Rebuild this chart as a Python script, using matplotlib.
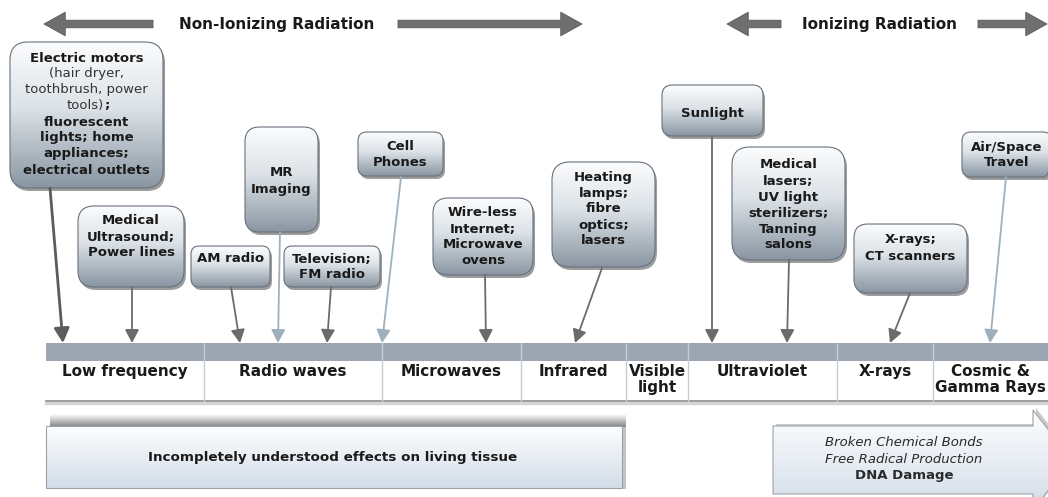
import numpy as np
import matplotlib.pyplot as plt
from matplotlib.patches import FancyBboxPatch, Rectangle, Polygon
from matplotlib.colors import LinearSegmentedColormap

plt.rcParams['font.family'] = ['DejaVu Sans']

# spectrum bands (left to right) and their pixel edges
band_names = ['Low frequency', 'Radio waves', 'Microwaves', 'Infrared',
              'Visible\nlight', 'Ultraviolet', 'X-rays', 'Cosmic &\nGamma Rays']
band_edges = [46, 204, 382, 521, 626, 688, 837, 933, 1048]

# sources of exposure
source_labels = [
    None,  # electric motors, drawn separately (mixed weights)
    'Medical\nUltrasound;\nPower lines',
    'AM radio',
    'MR\nImaging',
    'Television;\nFM radio',
    'Cell\nPhones',
    'Wire-less\nInternet;\nMicrowave\novens',
    'Heating\nlamps;\nfibre\noptics;\nlasers',
    'Sunlight',
    'Medical\nlasers;\nUV light\nsterilizers;\nTanning\nsalons',
    'X-rays;\nCT scanners',
    'Air/Space\nTravel',
]
# box extents x0, y0, x1, y1 (pixels)
source_boxes = [
    (10, 42, 163, 188), (78, 206, 184, 287), (191, 246, 270, 287),
    (245, 127, 318, 232), (284, 246, 380, 287), (358, 132, 443, 176),
    (433, 198, 533, 275), (552, 162, 655, 267), (662, 85, 763, 136),
    (732, 147, 845, 260), (854, 224, 967, 293), (962, 132, 1052, 177),
]
first_line_y = [58, 221, 259, 173, 259, 147, 213, 177, 114, 165, 240, 147]
arrow_tails = [(50, 188), (132, 287), (231, 287), (280, 232), (331, 287),
               (401, 177), (485, 275), (602, 268), (712, 136), (789, 260),
               (910, 293), (1006, 177)]
arrow_tips = [(63, 343), (132, 343), (240, 343), (278, 343), (327, 343),
              (382, 343), (486, 343), (575, 343), (712, 343), (787, 343),
              (890, 343), (990, 343)]
arrow_kind = ['heavy', 'dark', 'dark', 'light', 'dark', 'light', 'dark',
              'dark', 'dark', 'dark', 'dark', 'light']

motor_lines = [('Electric motors', 'bold'), ('(hair dryer,', 'normal'),
               ('toothbrush, power', 'normal'), ('tools)', 'normal'),
               ('fluorescent', 'bold'), ('lights; home', 'bold'),
               ('appliances;', 'bold'), ('electrical outlets', 'bold')]

effects_left = 'Incompletely understood effects on living tissue'
effects_right = ['Broken Chemical Bonds', 'Free Radical Production', 'DNA Damage']

W, H = 1048, 497
fig = plt.figure(figsize=(W / 100, H / 100), dpi=100)
ax = fig.add_axes([0, 0, 1, 1])
ax.set_autoscale_on(False)
ax.set_xlim(0, W)
ax.set_ylim(H, 0)
ax.axis('off')

box_cmap = LinearSegmentedColormap.from_list(
    'box', [(0, '#fbfcfd'), (0.45, '#dce2e7'), (1, '#8996a2')])
pale_cmap = LinearSegmentedColormap.from_list(
    'pale', [(0, '#fdfeff'), (1, '#d3dde8')])


def gradient_fill(patch, x0, y0, x1, y1, cmap, z):
    grad = np.linspace(0, 1, 200).reshape(-1, 1)
    im = ax.imshow(grad, extent=(x0, x1, y1, y0), cmap=cmap, aspect='auto',
                   origin='upper', zorder=z, interpolation='bilinear')
    im.set_clip_path(patch)


def gradient_box(x0, y0, x1, y1, z=3):
    w, h = x1 - x0, y1 - y0
    r = min(18, 0.2 * min(w, h))
    style = f'round,pad=0,rounding_size={r}'
    shadow = FancyBboxPatch((x0 + 2, y0 + 3), w, h, boxstyle=style,
                            fc='#3a3a3a', ec='none', alpha=0.5, zorder=z - 0.2)
    ax.add_patch(shadow)
    base = FancyBboxPatch((x0, y0), w, h, boxstyle=style, fc='none',
                          ec='#68727c', lw=0.8, zorder=z + 0.1)
    ax.add_patch(base)
    gradient_fill(base, x0, y0, x1, y1, box_cmap, z)


def shade(x0, y0, x1, y1, z, top_alpha, bot_alpha):
    a = np.linspace(top_alpha, bot_alpha, 50).reshape(-1, 1)
    rgba = np.zeros((50, 1, 4))
    rgba[..., :3] = 0.3
    rgba[..., 3] = a
    ax.imshow(rgba, extent=(x0, x1, y1, y0), aspect='auto', origin='upper',
              zorder=z, interpolation='bilinear')


# ---- top headings ----
head_col = '#6f6f6f'
top_style = 'simple,head_length=0.9,head_width=1.0,tail_width=0.32'


def big_arrow(x_from, x_to, y=24):
    ax.annotate('', xy=(x_to, y), xytext=(x_from, y),
                arrowprops=dict(arrowstyle=top_style, fc=head_col, ec='#5a5a5a',
                                lw=0.6, mutation_scale=17, shrinkA=0, shrinkB=0))


big_arrow(153, 44)
big_arrow(398, 582)
ax.text(277, 24, 'Non-Ionizing Radiation', ha='center', va='center',
        fontsize=11, fontweight='bold', color='#1a1a1a')
big_arrow(781, 727)
big_arrow(978, 1047)
ax.text(880, 24, 'Ionizing Radiation', ha='center', va='center',
        fontsize=11, fontweight='bold', color='#1a1a1a')

# ---- spectrum band ----
ax.add_patch(Rectangle((band_edges[0], 343), band_edges[-1] - band_edges[0], 18,
                       fc='#9ba6b0', ec='none', zorder=2))
for e in band_edges[1:-1]:
    ax.plot([e, e], [343, 401], color='#c3cdd9', lw=1, zorder=2.5)
ax.plot([band_edges[0], band_edges[-1]], [403, 403], color='#d6d6d6', lw=2.5, zorder=2)
ax.plot([band_edges[0], band_edges[-1]], [401, 401], color='#8c8c8c', lw=1.2, zorder=2.2)
for name, a, b in zip(band_names, band_edges[:-1], band_edges[1:]):
    ax.text((a + b) / 2, 364, name, ha='center', va='top', fontsize=11,
            fontweight='bold', color='#1a1a1a', linespacing=1.08)

# ---- source boxes and arrows ----
arrow_col = {'heavy': '#5c5c5c', 'dark': '#6b6b6b', 'light': '#9fb0bd'}
for lab, (x0, y0, x1, y1), fy in zip(source_labels, source_boxes, first_line_y):
    gradient_box(x0, y0, x1, y1)
    cx = (x0 + x1) / 2
    if lab is None:
        for i, (line, wt) in enumerate(motor_lines):
            y = fy + i * 16
            col = '#1a1a1a' if wt == 'bold' else '#333333'
            if line == 'tools)':
                ax.text(104, y, line, ha='right', va='center', fontsize=9.5,
                        color=col, zorder=5)
                ax.text(104, y, ';', ha='left', va='center', fontsize=9.5,
                        fontweight='bold', color='#1a1a1a', zorder=5)
            else:
                ax.text(cx, y, line, ha='center', va='center', fontsize=9.5,
                        fontweight=wt, color=col, zorder=5)
    else:
        for i, line in enumerate(lab.split('\n')):
            ax.text(cx, fy + i * 16, line, ha='center', va='center',
                    fontsize=9.5, fontweight='bold', color='#1a1a1a', zorder=5)

for (tx, ty), (hx, hy), kind in zip(arrow_tails, arrow_tips, arrow_kind):
    lw = 2.0 if kind == 'heavy' else 1.3
    ms = 11 if kind == 'heavy' else 10
    ax.annotate('', xy=(hx, hy), xytext=(tx, ty),
                arrowprops=dict(arrowstyle='-|>,head_length=0.8,head_width=0.42',
                                color=arrow_col[kind], lw=lw, mutation_scale=ms,
                                shrinkA=0, shrinkB=0), zorder=4)

# ---- effects ----
shade(50, 414, 626, 427, 1, 0.0, 0.7)
ax.add_patch(Rectangle((622, 427), 4, 62, fc='#555555', alpha=0.35, ec='none', zorder=1))
left_box = Rectangle((46, 426), 576, 62, fc='none', ec='#9aa3ac', lw=0.8, zorder=3.1)
ax.add_patch(left_box)
gradient_fill(left_box, 46, 426, 622, 488, pale_cmap, 3)
ax.text(333, 458, effects_left, ha='center', va='center', fontsize=9.7,
        fontweight='bold', color='#1a1a1a', zorder=5)

arrow_pts = [(773, 426), (1033, 426), (1033, 410), (1072, 460), (1033, 510),
             (1033, 494), (773, 494)]
shadow_pts = [(x + 3, y - 2) for x, y in arrow_pts]
ax.add_patch(Polygon(shadow_pts, closed=True, fc='#8a8a8a', ec='none', alpha=0.45, zorder=1))
right_arrow = Polygon(arrow_pts, closed=True, fc='none', ec='#9aa3ac', lw=0.8, zorder=3.1)
ax.add_patch(right_arrow)
gradient_fill(right_arrow, 773, 410, 1072, 510, pale_cmap, 3)
for i, line in enumerate(effects_right):
    last = i == len(effects_right) - 1
    ax.text(904, 443 + i * 16.5, line, ha='center', va='center', fontsize=9.5,
            fontstyle='normal' if last else 'italic',
            fontweight='bold' if last else 'normal', color='#2a2a2a', zorder=5)

fig.savefig('out.png', dpi=100)
